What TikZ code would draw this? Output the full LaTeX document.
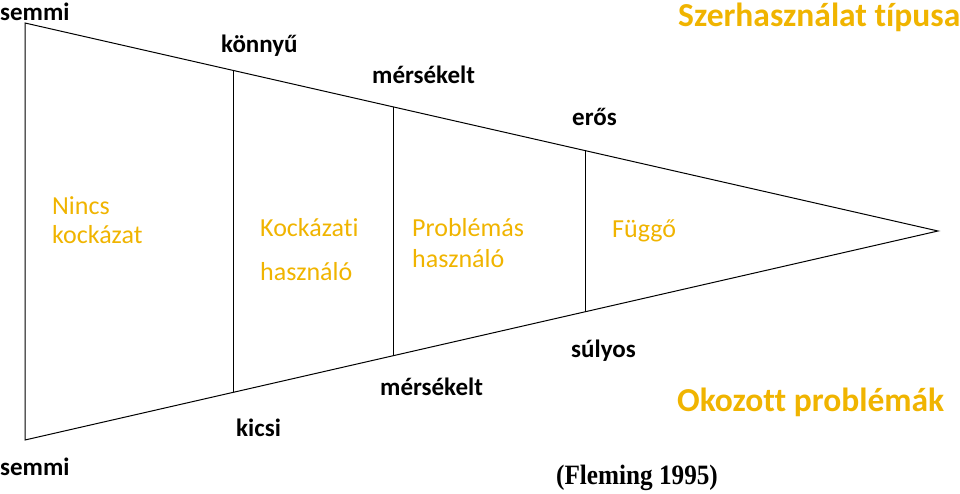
\documentclass[tikz,border=0pt]{standalone}
\usepackage{fontspec}
\setmainfont{Carlito}[Ligatures=NoCommon]
\newfontfamily\timesf{Liberation Serif}
\definecolor{gold}{RGB}{240,180,0}
\begin{document}
\begin{tikzpicture}[x=1pt,y=-1pt,
  lbl/.style={inner sep=0pt,anchor=mid west,font=\fontsize{25}{28}\selectfont\bfseries,text=black},
  cat/.style={inner sep=0pt,anchor=mid west,font=\fontsize{26}{29}\selectfont,text=gold},
  ttl/.style={inner sep=0pt,anchor=mid west,font=\fontsize{33.5}{36}\selectfont\bfseries,text=gold},
  edge/.style={draw=black,line width=1pt}]
\useasboundingbox (0,0) rectangle (960,494);
\coordinate (tl) at (25,23);
\coordinate (bl) at (25,440);
\coordinate (tip) at (938,231);
\coordinate (a1) at (233,70.4);  \coordinate (a2) at (233,392.4);
\coordinate (b1) at (393,106.8); \coordinate (b2) at (393,355.8);
\coordinate (c1) at (585,150.6); \coordinate (c2) at (585,311.8);
\draw[edge] (tl) -- (tip) -- (bl) -- cycle;
\draw[edge] (a1) -- (a2);
\draw[edge] (b1) -- (b2);
\draw[edge] (c1) -- (c2);
\node[lbl] (s1) at (0,18) {semmi};
\node[lbl] (k1) at (221,50) {könnyű};
\node[lbl] (m1) at (372,81) {mérsékelt};
\node[lbl] (e1) at (572,123) {erős};
\node[ttl] (t1) at (678,24) {Szerhasználat típusa};
\node[cat] (n1) at (52,212) {Nincs};
\node[cat] (n2) at (52,241) {kockázat};
\node[cat] (k2) at (260,234) {Kockázati};
\node[cat] (k3) at (260,278) {használó};
\node[cat] (p1) at (412,234) {Problémás};
\node[cat] (p2) at (412,265) {használó};
\node[cat] (f1) at (612,235) {Függő};
\node[lbl] (su) at (571,355) {súlyos};
\node[lbl] (m2) at (380,393) {mérsékelt};
\node[lbl] (ki) at (236,434) {kicsi};
\node[ttl] (t2) at (677,409) {Okozott problémák};
\node[lbl] (s2) at (0,473) {semmi};
\node[inner sep=0pt,anchor=mid west,xscale=0.9,font=\timesf\fontsize{28}{30}\selectfont\bfseries] (fl) at (556,482) {(Fleming 1995)};
\end{tikzpicture}
\end{document}
